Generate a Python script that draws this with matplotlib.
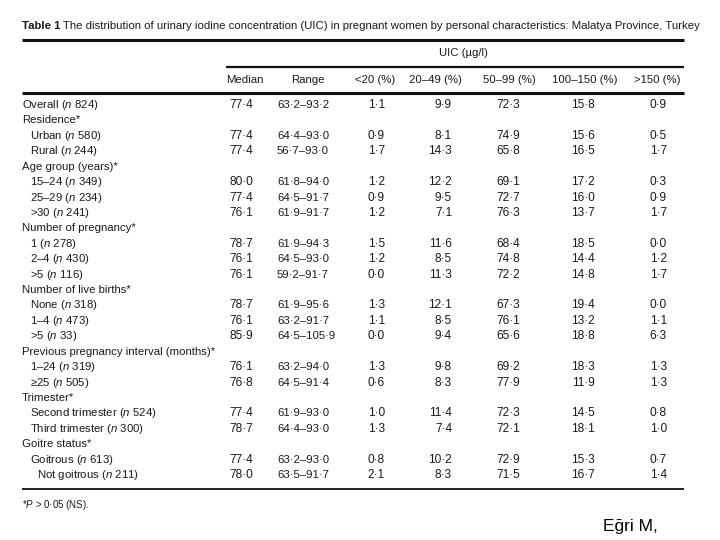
import matplotlib
matplotlib.use("Agg")
import matplotlib.pyplot as plt

FAM = ['Liberation Sans', 'DejaVu Sans']
plt.rcParams['font.family'] = FAM
plt.rcParams['mathtext.fontset'] = 'custom'
plt.rcParams['mathtext.it'] = 'Liberation Sans:italic'
plt.rcParams['mathtext.rm'] = 'Liberation Sans'
plt.rcParams['mathtext.default'] = 'regular'

title_bold = "Table 1"
title_rest = " The distribution of urinary iodine concentration (UIC) in pregnant women by personal characteristics: Malatya Province, Turkey"
spanner = "UIC (\u00b5g/l)"
col_headers = ["Median", "Range", "<20 (%)", "20\u201349 (%)", "50\u201399 (%)", "100\u2013150 (%)", ">150 (%)"]

row_labels = [
    "Overall ($\\mathit{n}$ 824)",
    "Residence*",
    "Urban ($\\mathit{n}$ 580)",
    "Rural ($\\mathit{n}$ 244)",
    "Age group (years)*",
    "15\u201324 ($\\mathit{n}$ 349)",
    "25\u201329 ($\\mathit{n}$ 234)",
    ">30 ($\\mathit{n}$ 241)",
    "Number of pregnancy*",
    "1 ($\\mathit{n}$ 278)",
    "2\u20134 ($\\mathit{n}$ 430)",
    ">5 ($\\mathit{n}$ 116)",
    "Number of live births*",
    "None ($\\mathit{n}$ 318)",
    "1\u20134 ($\\mathit{n}$ 473)",
    ">5 ($\\mathit{n}$ 33)",
    "Previous pregnancy interval (months)*",
    "1\u201324 ($\\mathit{n}$ 319)",
    "\u226525 ($\\mathit{n}$ 505)",
    "Trimester*",
    "Second trimester ($\\mathit{n}$ 524)",
    "Third trimester ($\\mathit{n}$ 300)",
    "Goitre status*",
    "Goitrous ($\\mathit{n}$ 613)",
    "Not goitrous ($\\mathit{n}$ 211)",
]
row_indent = [0, 0, 1, 1, 0, 1, 1, 1, 0, 1, 1, 1, 0, 1, 1, 1, 0, 1, 1, 0, 1, 1, 0, 1, 2]

median = ["77\u00b74", "", "77\u00b74", "77\u00b74", "", "80\u00b70", "77\u00b74", "76\u00b71", "", "78\u00b77", "76\u00b71", "76\u00b71",
          "", "78\u00b77", "76\u00b71", "85\u00b79", "", "76\u00b71", "76\u00b78", "", "77\u00b74", "78\u00b77", "", "77\u00b74", "78\u00b70"]
ranges = ["63\u00b72\u201393\u00b72", "", "64\u00b74\u201393\u00b70", "56\u00b77\u201393\u00b70", "", "61\u00b78\u201394\u00b70",
          "64\u00b75\u201391\u00b77", "61\u00b79\u201391\u00b77", "", "61\u00b79\u201394\u00b73", "64\u00b75\u201393\u00b70",
          "59\u00b72\u201391\u00b77", "", "61\u00b79\u201395\u00b76", "63\u00b72\u201391\u00b77", "64\u00b75\u2013105\u00b79", "",
          "63\u00b72\u201394\u00b70", "64\u00b75\u201391\u00b74", "", "61\u00b79\u201393\u00b70", "64\u00b74\u201393\u00b70", "",
          "63\u00b72\u201393\u00b70", "63\u00b75\u201391\u00b77"]
pct_lt20 = ["1\u00b71", "", "0\u00b79", "1\u00b77", "", "1\u00b72", "0\u00b79", "1\u00b72", "", "1\u00b75", "1\u00b72", "0\u00b70",
            "", "1\u00b73", "1\u00b71", "0\u00b70", "", "1\u00b73", "0\u00b76", "", "1\u00b70", "1\u00b73", "", "0\u00b78", "2\u00b71"]
pct_20_49 = ["9\u00b79", "", "8\u00b71", "14\u00b73", "", "12\u00b72", "9\u00b75", "7\u00b71", "", "11\u00b76", "8\u00b75", "11\u00b73",
             "", "12\u00b71", "8\u00b75", "9\u00b74", "", "9\u00b78", "8\u00b73", "", "11\u00b74", "7\u00b74", "", "10\u00b72", "8\u00b73"]
pct_50_99 = ["72\u00b73", "", "74\u00b79", "65\u00b78", "", "69\u00b71", "72\u00b77", "76\u00b73", "", "68\u00b74", "74\u00b78", "72\u00b72",
             "", "67\u00b73", "76\u00b71", "65\u00b76", "", "69\u00b72", "77\u00b79", "", "72\u00b73", "72\u00b71", "", "72\u00b79", "71\u00b75"]
pct_100_150 = ["15\u00b78", "", "15\u00b76", "16\u00b75", "", "17\u00b72", "16\u00b70", "13\u00b77", "", "18\u00b75", "14\u00b74", "14\u00b78",
               "", "19\u00b74", "13\u00b72", "18\u00b78", "", "18\u00b73", "11\u00b79", "", "14\u00b75", "18\u00b71", "", "15\u00b73", "16\u00b77"]
pct_gt150 = ["0\u00b79", "", "0\u00b75", "1\u00b77", "", "0\u00b73", "0\u00b79", "1\u00b77", "", "0\u00b70", "1\u00b72", "1\u00b77",
             "", "0\u00b70", "1\u00b71", "6\u00b73", "", "1\u00b73", "1\u00b73", "", "0\u00b78", "1\u00b70", "", "0\u00b77", "1\u00b74"]
footnote = "*$\\mathit{P}$ > 0\u00b705 (NS)."
credit = "E\u011fri M,"

fig = plt.figure(figsize=(7.2, 5.4), dpi=100)
ax = fig.add_axes([0, 0, 1, 1])
ax.set_xlim(0, 720)
ax.set_ylim(540, 0)
ax.axis('off')

tc = '#1a1a1a'
fs = 8.2
fsn = 8.6

# title, fitted to span x = 22..700
tfs = 9.0
t1 = ax.text(22, 26, title_bold, fontsize=tfs, fontweight='bold', color=tc, va='center', ha='left')
fig.canvas.draw()
x_end = t1.get_window_extent().x1
t2 = ax.text(x_end, 26, title_rest, fontsize=tfs, color=tc, va='center', ha='left')
fig.canvas.draw()
w = t2.get_window_extent().x1 - 22
scale = (700 - 22) / w
tfs2 = tfs * scale
t1.set_fontsize(tfs2)
fig.canvas.draw()
x_end = t1.get_window_extent().x1
t2.set_fontsize(tfs2)
t2.set_x(x_end)

# rules
ax.plot([22, 684], [40, 40], color='#111111', lw=2.2, solid_capstyle='butt')
ax.plot([226, 684], [67, 67], color='#111111', lw=1.6, solid_capstyle='butt')
ax.plot([22, 684], [93, 93], color='#111111', lw=2.2, solid_capstyle='butt')
ax.plot([22, 684], [489, 489], color='#111111', lw=1.3, solid_capstyle='butt')

ax.text(463, 53, spanner, fontsize=fs, color=tc, ha='center', va='center')

header_cx = [244.5, 307.5, 375.5, 435, 509.5, 585, 657.5]
for hx, h in zip(header_cx, col_headers):
    ax.text(hx, 80, h, fontsize=fs, color=tc, ha='center', va='center')

y0, dy = 105, 15.42
indent_x = [22, 30, 37]
right_cols = [(253, median), (385, pct_lt20), (452, pct_20_49), (520, pct_50_99), (595, pct_100_150), (667, pct_gt150)]
for i, lab in enumerate(row_labels):
    y = y0 + i * dy
    ax.text(indent_x[row_indent[i]], y, lab, fontsize=fs, color=tc, ha='left', va='center')
    for rx, col in right_cols:
        if col[i]:
            ax.text(rx, y, col[i], fontsize=fsn, color=tc, ha='right', va='center')
    if ranges[i]:
        ax.text(277, y, ranges[i], fontsize=fs, color=tc, ha='left', va='center')

ax.text(22, 505, footnote, fontsize=7.0, color=tc, ha='left', va='center')
ax.text(603, 527, credit, fontsize=12.5, color='black', ha='left', va='center')

fig.savefig('out.png', dpi=100)
